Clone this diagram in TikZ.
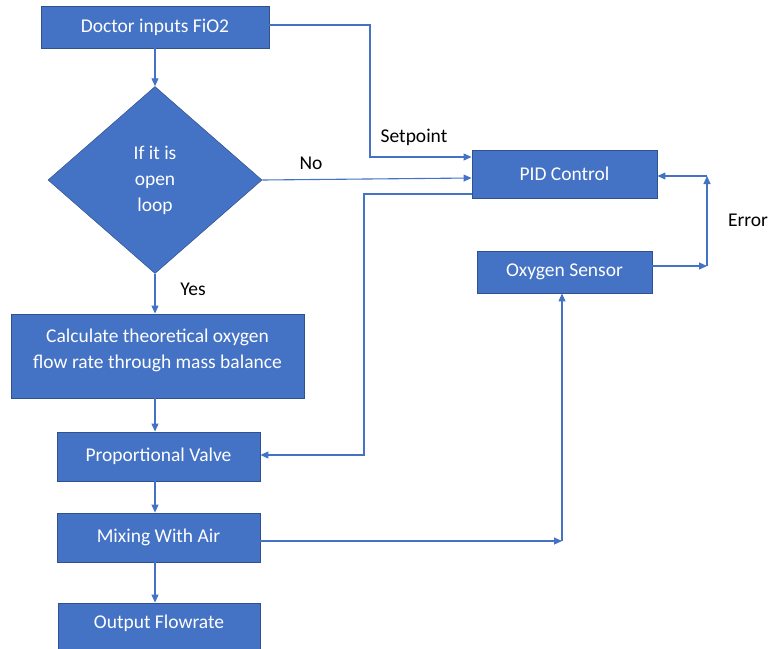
\documentclass[tikz,border=0pt]{standalone}
\usepackage{fontspec}
\setmainfont{Carlito}
\usetikzlibrary{shapes.geometric,arrows.meta,calc}
\definecolor{boxblue}{HTML}{4472C4}
\definecolor{boxedge}{HTML}{2F528F}
\definecolor{linkblue}{HTML}{4472C4}
\begin{document}
\begin{tikzpicture}[x=1pt,y=-1pt,
  box/.style={draw=boxedge,line width=0.9pt,fill=boxblue,text=white,inner sep=0pt,
    font=\fontsize{19.5}{26}\selectfont,align=center},
  boxtext/.style={text=white,inner sep=0pt,font=\fontsize{19.5}{26}\selectfont,align=center},
  decide/.style={diamond,draw=boxedge,line width=0.5pt,fill=boxblue,text=white,inner sep=0pt,
    font=\fontsize{19.5}{26}\selectfont,align=center,minimum width=214pt,minimum height=187pt},
  arr/.style={draw=linkblue,line width=1.1pt,-{Triangle[length=8pt,width=7pt]}},
  lbl/.style={font=\fontsize{19.5}{22}\selectfont,text=black,inner sep=0pt}]
\useasboundingbox (0,0) rectangle (770,648);
\node[box,minimum width=228pt,minimum height=42pt] (doc) at (155,27) {Doctor inputs FiO2};
\node[decide] (dia) at (155,180) {If it is\\open\\loop};
\node[box,minimum width=293pt,minimum height=84pt] (calc) at (157.5,356) {};
\node[boxtext] (calctxt) at (157.5,350) {Calculate theoretical oxygen\\flow rate through mass balance};
\node[box,minimum width=203pt,minimum height=49pt] (pv) at (158.5,456.5) {Proportional Valve};
\node[box,minimum width=203pt,minimum height=49pt] (mix) at (158.5,537.5) {Mixing With Air};
\node[box,minimum width=202pt,minimum height=50pt] (out) at (159,628) {};
\node[boxtext] (outtxt) at (159,623) {Output Flowrate};
\node[box,minimum width=185pt,minimum height=48pt] (pid) at (564.5,174) {PID Control};
\node[box,minimum width=175pt,minimum height=42pt] (sens) at (564.5,272) {Oxygen Sensor};

\draw[arr] (doc.south) -- (dia.north);
\draw[arr] (dia.south) -- (calc.north -| dia.south);
\draw[arr] (calc.south -| dia.south) -- (pv.north -| dia.south);
\draw[arr] (pv.south -| dia.south) -- (mix.north -| dia.south);
\draw[arr] (mix.south -| dia.south) -- (out.north -| dia.south);
\node[lbl] (yes) at (193,289) {Yes};

\coordinate (c1) at (370,157);
\coordinate (c0) at (370,25);
\draw[arr] (c0 -| doc.east) -- (c0) -- (c1) -- (c1 -| pid.west);
\node[lbl] (setp) at (414,137) {Setpoint};

\coordinate (n1) at (472,178);
\draw[arr] (dia.east) -- (n1 -| pid.west);
\node[lbl] (no) at (311,163) {No};

\coordinate (c2) at (364,194);
\coordinate (c3) at (364,455);
\draw[arr] (c2 -| pid.west) -- (c2) -- (c3) -- (c3 -| pv.east);

\coordinate (e1) at (707,266);
\coordinate (e2) at (707,176);
\draw[arr] (e1 -| sens.east) -- (e1);
\draw[arr] (e1) -- (e2);
\draw[arr] (e2) -- (e2 -| pid.east);
\node[lbl] (err) at (748,220) {Error};

\coordinate (m1) at (562,541);
\draw[arr] (m1 -| mix.east) -- (m1);
\draw[arr] (m1) -- (m1 |- sens.south);
\end{tikzpicture}
\end{document}
